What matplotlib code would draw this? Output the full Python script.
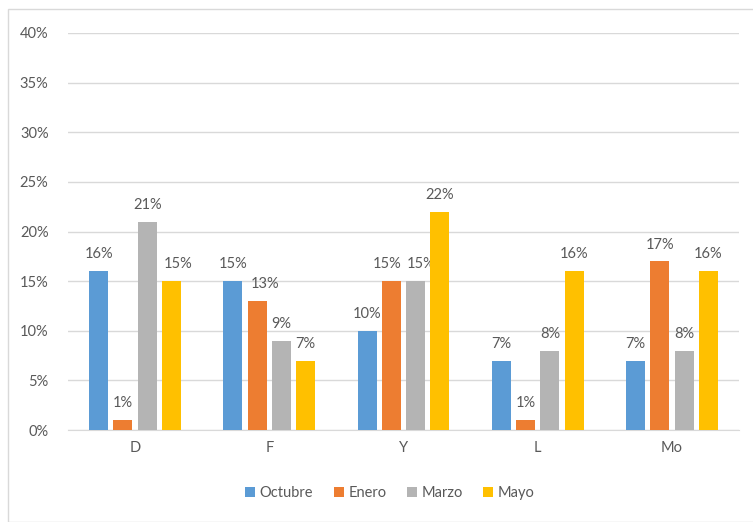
import numpy as np
import matplotlib
matplotlib.use('Agg')
import matplotlib.pyplot as plt
from matplotlib.patches import Rectangle
from matplotlib.ticker import FuncFormatter

categories = ['D', 'F', 'Y', 'L', 'Mo']
series_names = ['Octubre', 'Enero', 'Marzo', 'Mayo']
octubre = [16, 15, 10, 7, 7]
enero = [1, 13, 15, 1, 17]
marzo = [21, 9, 15, 8, 8]
mayo = [15, 7, 22, 16, 16]
colors = ['#5B9BD5', '#ED7D31', '#B4B4B4', '#FFC000']

plt.rcParams['font.family'] = ['Lato', 'DejaVu Sans']
text_color = '#595959'

# label nudges (points), like excel moves crowded labels
nudge = {(3, 0): 5, (1, 1): 6, (1, 2): -3, (2, 2): 4}

fig = plt.figure(figsize=(7.53, 5.22), dpi=100)
fig.patches.append(Rectangle((8 / 753, 0), 1, 1 - 9 / 522, transform=fig.transFigure,
                             fill=False, edgecolor='#D9D9D9', linewidth=1))
ax = fig.add_axes([68 / 753, 1 - 430 / 522, 671 / 753, 397 / 522])

x = np.arange(len(categories))
width = 0.142
step = 0.181
for i, (name, vals) in enumerate(zip(series_names, [octubre, enero, marzo, mayo])):
    pos = x + (i - 1.5) * step
    bars = ax.bar(pos, vals, width, color=colors[i], label=name, zorder=3)
    for j, (b, v) in enumerate(zip(bars, vals)):
        ax.annotate('%d%%' % v, (b.get_x() + b.get_width() / 2, v),
                    xytext=(nudge.get((i, j), 0), 7), textcoords='offset points',
                    ha='center', va='bottom', fontsize=10.5, color=text_color)

ax.set_xlim(-0.5, len(categories) - 0.5)
ax.set_ylim(0, 40)
ax.set_yticks(range(0, 41, 5))
ax.yaxis.set_major_formatter(FuncFormatter(lambda v, p: '%d%%' % v))
ax.set_xticks(x)
ax.set_xticklabels(categories)
ax.grid(axis='y', color='#D9D9D9', linewidth=1, zorder=0)
for s in ['top', 'right', 'left']:
    ax.spines[s].set_visible(False)
ax.spines['bottom'].set_color('#D9D9D9')
ax.tick_params(axis='both', length=0, labelsize=10.5, labelcolor=text_color)
ax.tick_params(axis='y', pad=14)
ax.tick_params(axis='x', pad=8)

fig.legend(loc='center', bbox_to_anchor=(390 / 753, 1 - 493 / 522), ncol=4,
           frameon=False, fontsize=10.5, handlelength=0.7, handleheight=0.7,
           handletextpad=0.3, columnspacing=1.4, labelcolor=text_color)

fig.savefig('out.png', dpi=100)
